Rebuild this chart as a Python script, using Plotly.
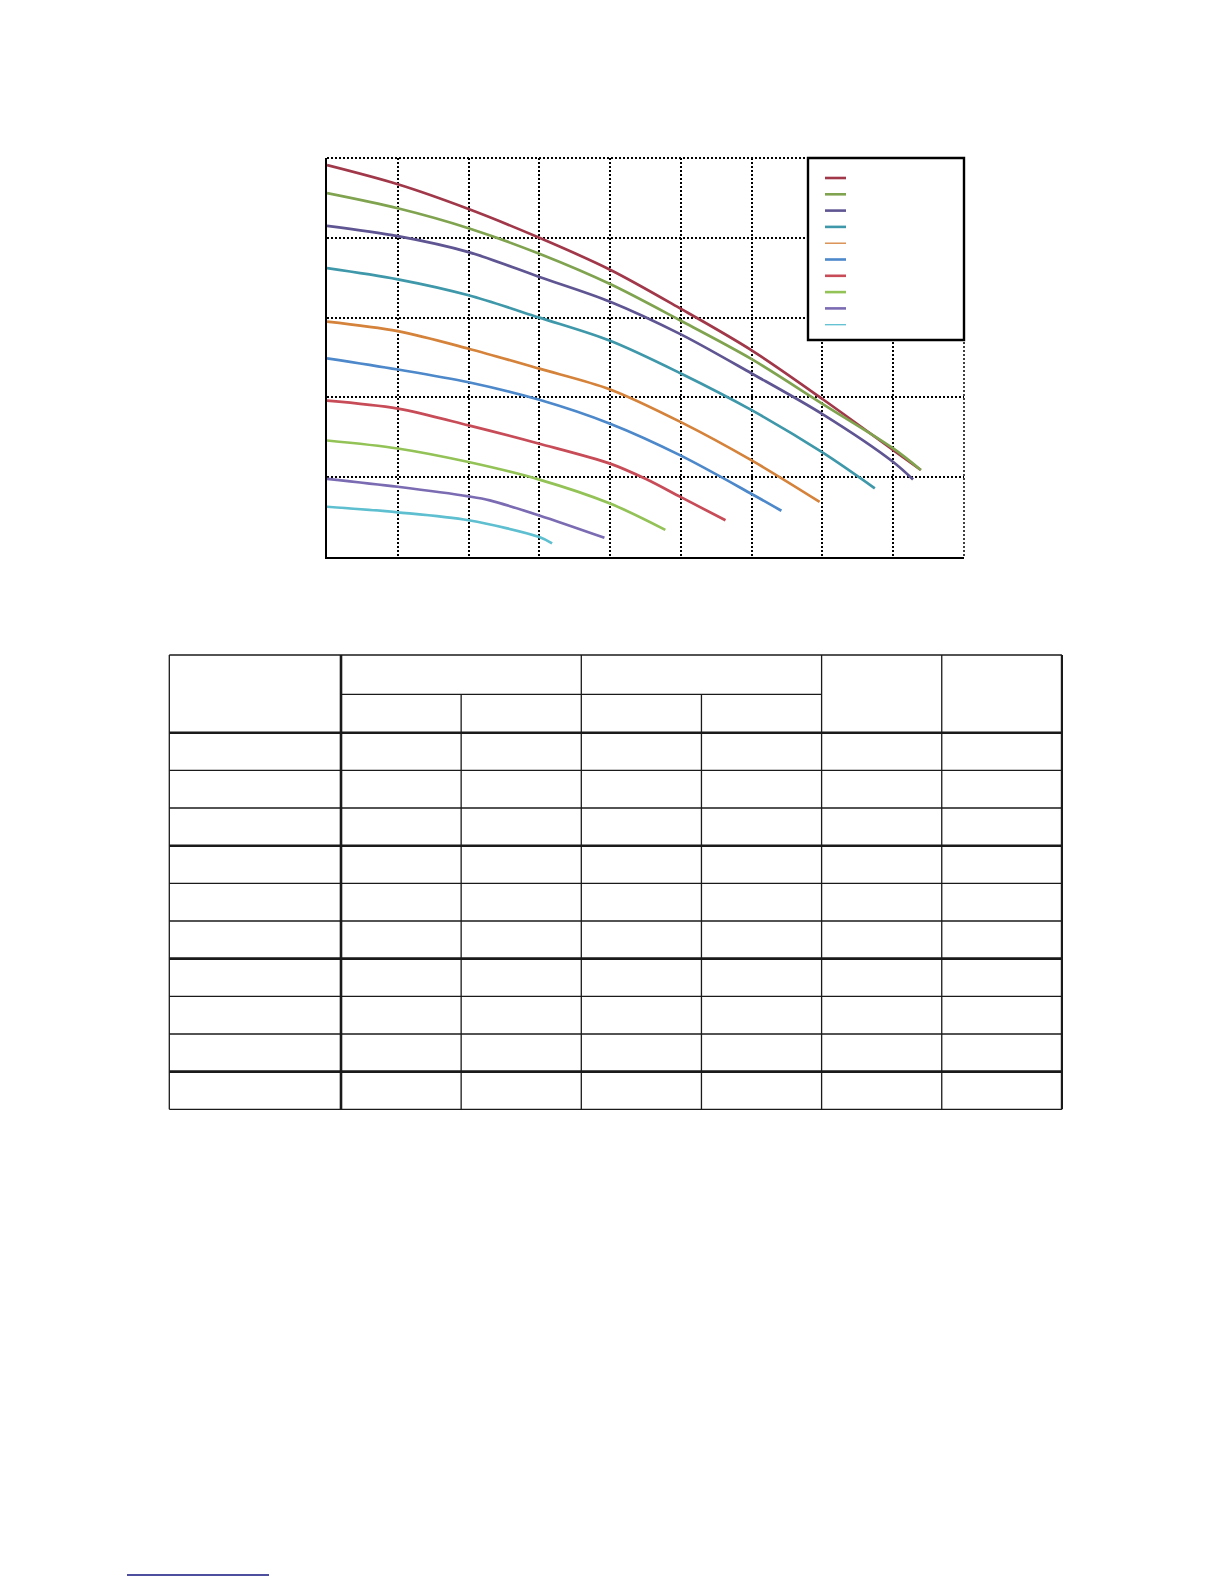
import plotly.graph_objects as go

# ==========================================
# 1. DATA
# ==========================================
# x positions of the points on each curve (last value = where the curve ends)
x_s1 = [0, 1, 2, 3, 4, 5, 6, 7, 8, 8.39]
y_s1 = [4.91, 4.67, 4.36, 4.00, 3.60, 3.11, 2.59, 1.98, 1.34, 1.09]

x_s2 = [0, 1, 2, 3, 4, 5, 6, 7, 8, 8.39]
y_s2 = [4.56, 4.37, 4.12, 3.80, 3.42, 2.96, 2.48, 1.92, 1.36, 1.09]

x_s3 = [0, 1, 2, 3, 4, 5, 6, 7, 8, 8.28]
y_s3 = [4.15, 4.02, 3.82, 3.51, 3.20, 2.79, 2.30, 1.79, 1.19, 0.97]

x_s4 = [0, 1, 2, 3, 4, 5, 6, 7, 7.74]
y_s4 = [3.62, 3.48, 3.28, 3.00, 2.71, 2.30, 1.84, 1.31, 0.86]

x_s5 = [0, 1, 2, 3, 4, 5, 6, 6.96]
y_s5 = [2.95, 2.83, 2.61, 2.36, 2.10, 1.69, 1.21, 0.69]

x_s6 = [0, 1, 2, 3, 4, 5, 6, 6.42]
y_s6 = [2.49, 2.35, 2.19, 1.97, 1.67, 1.27, 0.79, 0.58]

x_s7 = [0, 1, 2, 3, 4, 4.5, 5, 5.63]
y_s7 = [1.96, 1.86, 1.65, 1.42, 1.17, 0.98, 0.75, 0.46]

x_s8 = [0, 1, 2, 3, 4, 4.78]
y_s8 = [1.46, 1.36, 1.19, 0.97, 0.67, 0.34]

x_s9 = [0, 1, 2, 2.3, 3, 3.92]
y_s9 = [0.98, 0.88, 0.76, 0.71, 0.52, 0.24]

x_s10 = [0, 1, 2, 3, 3.18]
y_s10 = [0.63, 0.56, 0.46, 0.25, 0.17]

series_x = [x_s1, x_s2, x_s3, x_s4, x_s5, x_s6, x_s7, x_s8, x_s9, x_s10]
series_y = [y_s1, y_s2, y_s3, y_s4, y_s5, y_s6, y_s7, y_s8, y_s9, y_s10]

colors = ['#A1384A', '#80A350', '#5F5592', '#3E98AA', '#D5823A',
          '#4C88CA', '#C74C58', '#93C257', '#7B6BB3', '#5DBFD0']

x_range = [0, 9]
y_range = [0, 5]

# empty table below the chart: 10 body rows, thick rule every 3 rows
n_body_rows = 10

# ==========================================
# 2. PAGE GEOMETRY
# ==========================================
PAGE_W, PAGE_H = 1224, 1584
BODY = 8  # default body margin of the html page
FIG_W, FIG_H = PAGE_W - 2 * BODY, PAGE_H - 2 * BODY


def px(x):
    return (x - BODY) / FIG_W


def py(y):
    return 1 - (y - BODY) / FIG_H


PLOT_L, PLOT_R, PLOT_T, PLOT_B = 327, 964, 158, 557

fig = go.Figure()

for xs, ys, c in zip(series_x, series_y, colors):
    fig.add_trace(go.Scatter(
        x=xs, y=ys, mode='lines',
        line=dict(color=c, width=2.7, shape='spline', smoothing=0.9),
        hoverinfo='skip', showlegend=False
    ))

grid = dict(showgrid=True, gridcolor='black', gridwidth=1.5, griddash='2px,2px',
            zeroline=False, showticklabels=False, ticks='', dtick=1,
            showline=True, linecolor='black', linewidth=2.2, mirror=False)

fig.update_xaxes(domain=[px(PLOT_L), px(PLOT_R)], range=x_range, **grid)
fig.update_yaxes(domain=[py(PLOT_B), py(PLOT_T)], range=y_range, **grid)

shapes = []

# top / right border of the plot is a dotted gridline
shapes.append(dict(type='line', xref='paper', yref='paper',
                   x0=px(PLOT_L), x1=px(PLOT_R), y0=py(PLOT_T), y1=py(PLOT_T),
                   line=dict(color='black', width=1.8, dash='2px,2px')))
shapes.append(dict(type='line', xref='paper', yref='paper',
                   x0=px(PLOT_R), x1=px(PLOT_R), y0=py(PLOT_T), y1=py(PLOT_B),
                   line=dict(color='black', width=1.5, dash='2px,2px')))

# legend box (entries without labels)
LEG_L, LEG_R, LEG_T, LEG_B = 808, 964, 158, 340
shapes.append(dict(type='rect', xref='paper', yref='paper', layer='above',
                   x0=px(LEG_L), x1=px(LEG_R), y0=py(LEG_B), y1=py(LEG_T),
                   fillcolor='white', line=dict(color='black', width=2.4)))
leg_widths = [2.6, 2.6, 2.6, 2.6, 1.3, 2.6, 2.6, 2.6, 2.6, 1.3]
for i, c in enumerate(colors):
    yy = 178 + i * 16.3
    shapes.append(dict(type='line', xref='paper', yref='paper', layer='above',
                       x0=px(825), x1=px(846), y0=py(yy), y1=py(yy),
                       line=dict(color=c, width=leg_widths[i])))

# ==========================================
# 3. EMPTY TABLE
# ==========================================
T_LEFT, T_FIRST_W, T_COL_W, T_NCOLS = 169.3, 171.7, 120.15, 6
T_TOP, T_SUB, T_HEAD_B, T_ROW_H = 655, 694.3, 732.7, 37.66
col_x = [T_LEFT, T_LEFT + T_FIRST_W] + [T_LEFT + T_FIRST_W + T_COL_W * k for k in range(1, T_NCOLS + 1)]
row_y = [T_HEAD_B + T_ROW_H * k for k in range(n_body_rows + 1)]
T_BOTTOM = row_y[-1]
THIN, THICK = 1.3, 2.6


def hline(y, x0, x1, w):
    shapes.append(dict(type='line', xref='paper', yref='paper',
                       x0=px(x0), x1=px(x1), y0=py(y), y1=py(y),
                       line=dict(color='#1a1a1a', width=w)))


def vline(x, y0, y1, w):
    shapes.append(dict(type='line', xref='paper', yref='paper',
                       x0=px(x), x1=px(x), y0=py(y0), y1=py(y1),
                       line=dict(color='#1a1a1a', width=w)))


hline(T_TOP, col_x[0], col_x[-1], THIN)
hline(T_SUB, col_x[1], col_x[5], THIN)
for k, y in enumerate(row_y):
    w = THICK if (k % 3 == 0 and k < n_body_rows) else THIN
    hline(y, col_x[0], col_x[-1], w)

vline(col_x[0], T_TOP, T_BOTTOM, THIN)
vline(col_x[1], T_TOP, T_BOTTOM, THICK)
vline(col_x[2], T_SUB, T_BOTTOM, THIN)
vline(col_x[3], T_TOP, T_BOTTOM, THIN)
vline(col_x[4], T_SUB, T_BOTTOM, THIN)
vline(col_x[5], T_TOP, T_BOTTOM, THIN)
vline(col_x[6], T_TOP, T_BOTTOM, THIN)
vline(col_x[7], T_TOP, T_BOTTOM, 2.2)

# link underline at the foot of the page
shapes.append(dict(type='line', xref='paper', yref='paper',
                   x0=px(127), x1=px(269), y0=py(1575), y1=py(1575),
                   line=dict(color='#141480', width=1.6)))

fig.update_layout(
    width=FIG_W, height=FIG_H,
    margin=dict(l=0, r=0, t=0, b=0),
    plot_bgcolor='white', paper_bgcolor='white',
    showlegend=False,
    shapes=shapes
)

fig.write_html('out.html')
